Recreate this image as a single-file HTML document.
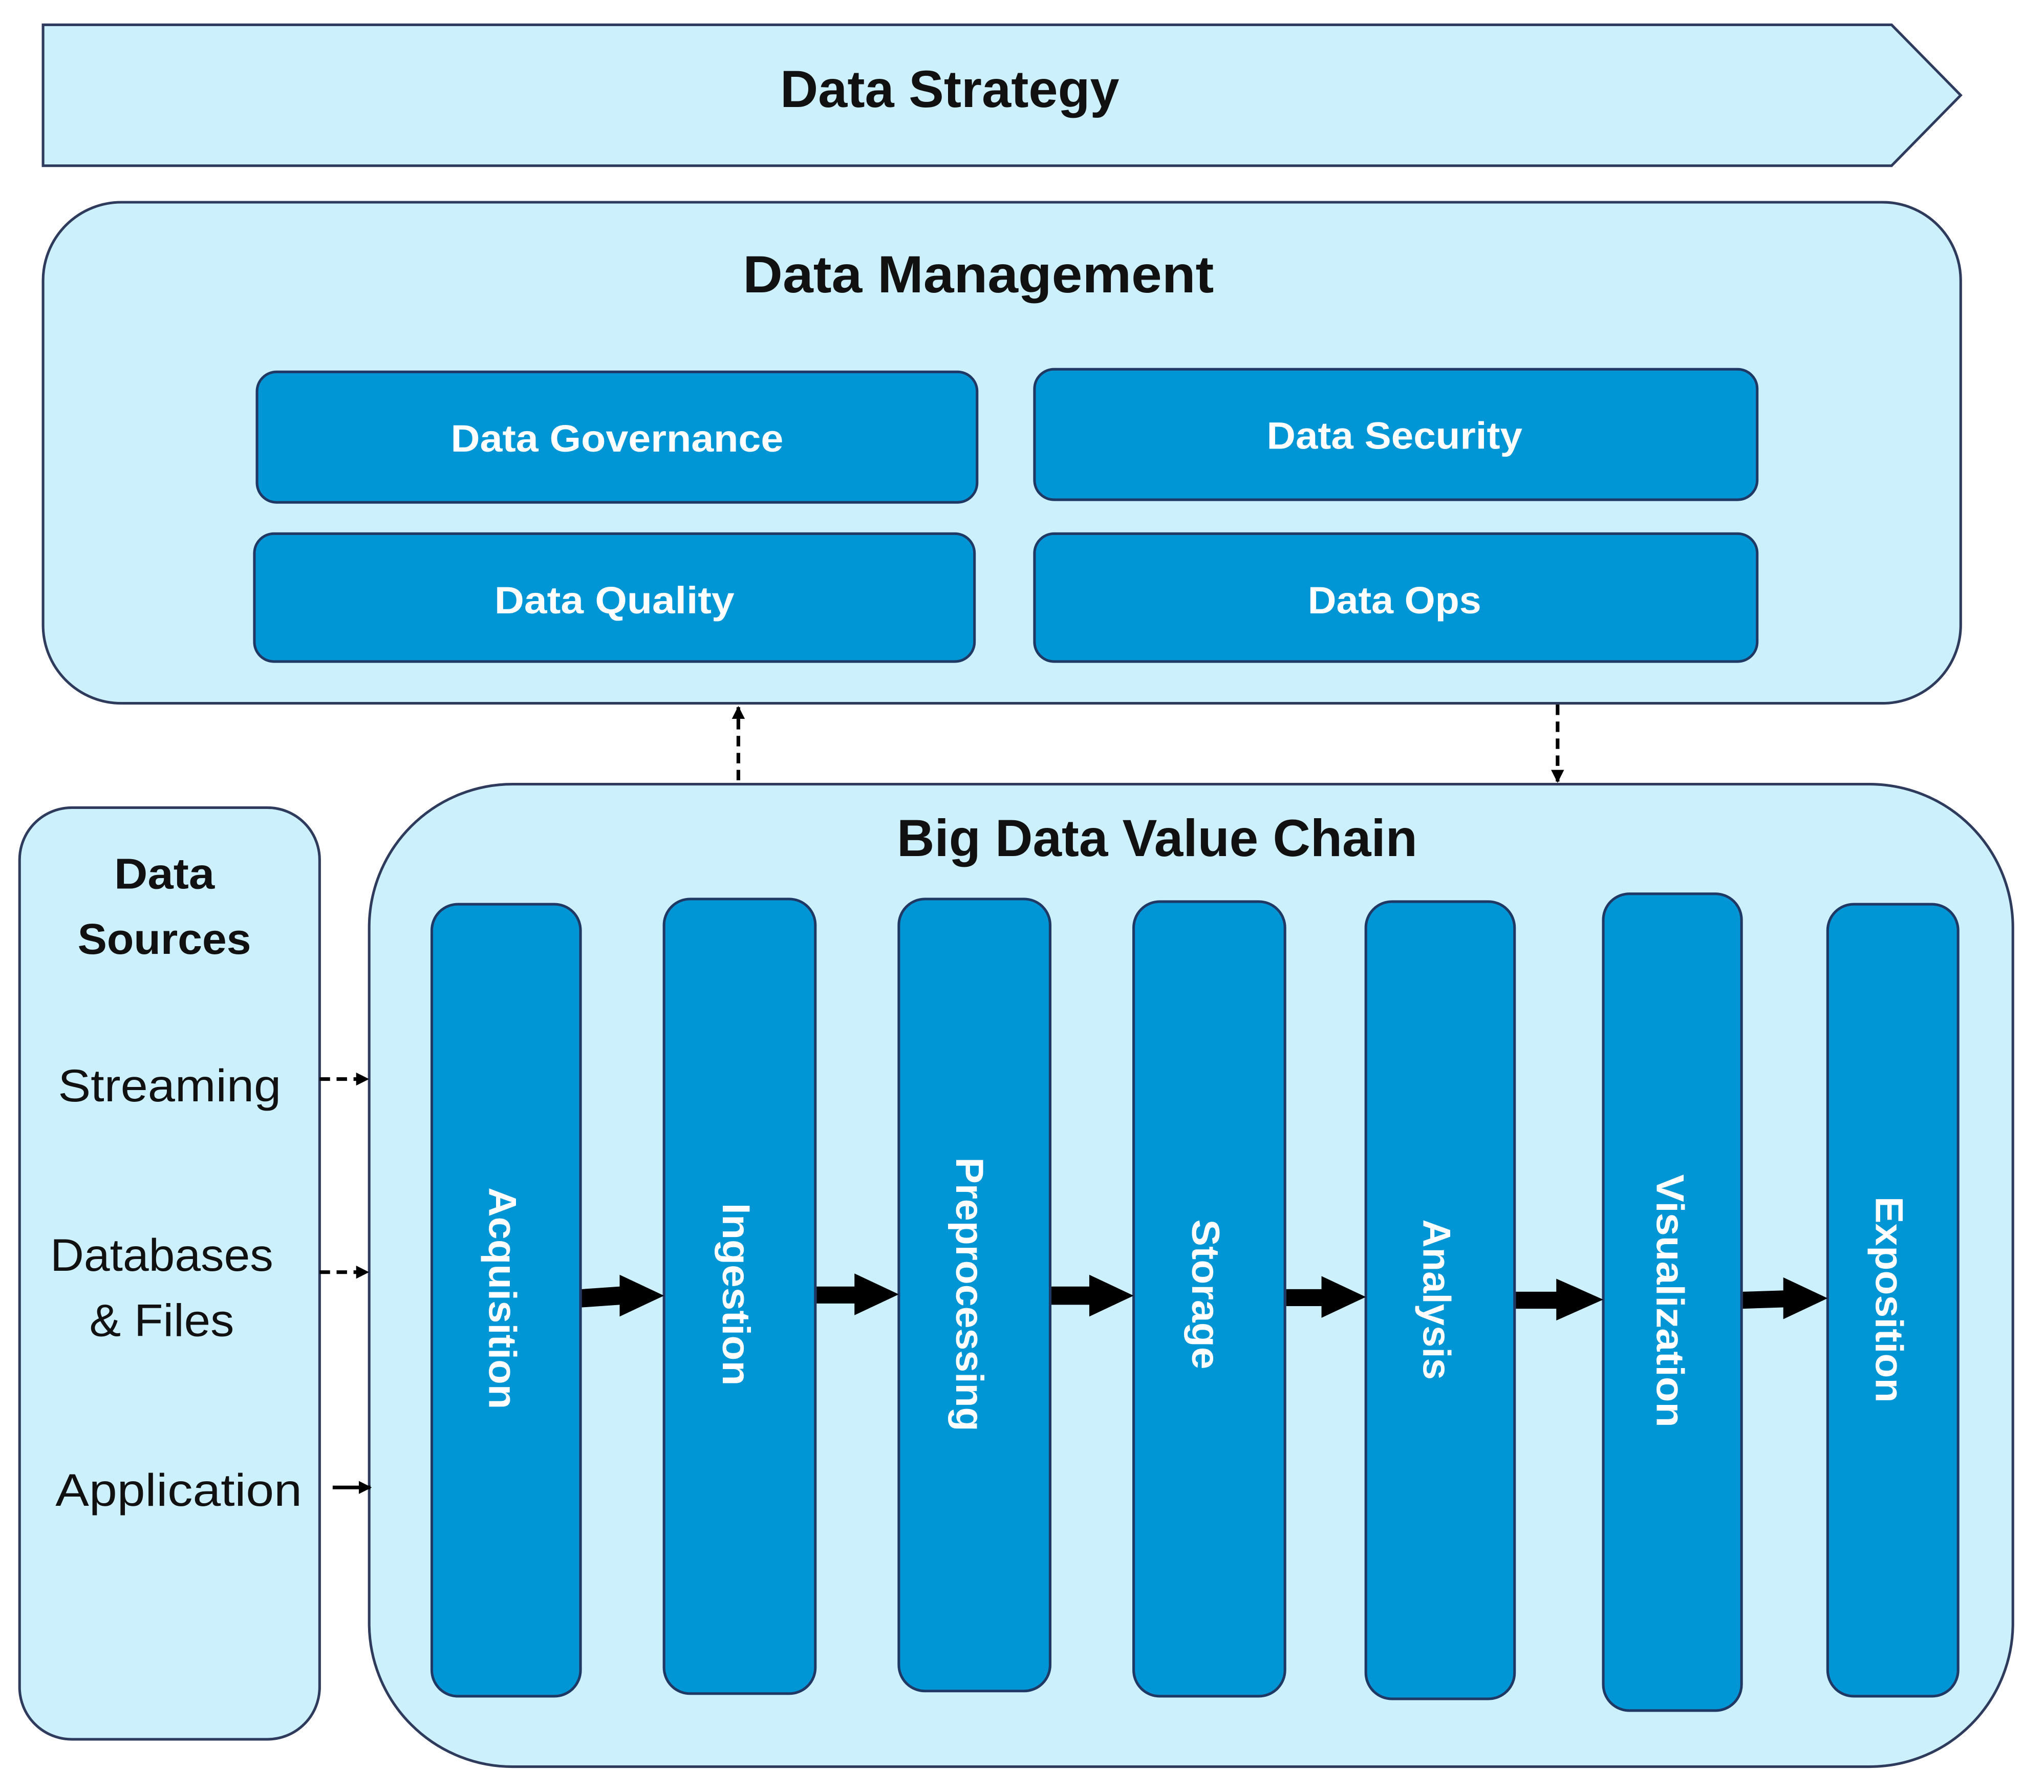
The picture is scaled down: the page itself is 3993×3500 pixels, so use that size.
<!DOCTYPE html>
<html><head><meta charset="utf-8"><style>html,body{margin:0;padding:0;background:#fff}svg{display:block}</style></head>
<body>
<svg xmlns="http://www.w3.org/2000/svg" width="3993" height="3500" viewBox="0 0 1566.8 1373.4" preserveAspectRatio="xMinYMin meet" font-family="Liberation Sans, sans-serif">
<defs>
<marker id="sb" markerWidth="10" markerHeight="10" refX="9" refY="5" orient="auto" markerUnits="userSpaceOnUse"><path d="M0,0 L10,5 L0,10 z" fill="#000"/></marker>
</defs>
<rect width="1566.8" height="1373.4" fill="#fff"/>
<g stroke="#2f3b5c" stroke-width="2" fill="#cdf0fd">
<polygon points="33,19 1450,19 1503,73 1450,127 33,127"/>
<rect x="33" y="155" width="1470" height="384" rx="60"/>
<rect x="15" y="619" width="230" height="714" rx="40"/>
<rect x="283" y="601" width="1260" height="753" rx="110"/>
</g>
<g stroke="#1f3864" stroke-width="2" fill="#0096d6">
<rect x="197" y="285" width="552" height="100" rx="15"/>
<rect x="793" y="283" width="554" height="100" rx="15"/>
<rect x="195" y="409" width="552" height="98" rx="15"/>
<rect x="793" y="409" width="554" height="98" rx="15"/>
<rect x="331" y="693" width="114" height="607" rx="20"/>
<rect x="509" y="689" width="116" height="609" rx="20"/>
<rect x="689" y="689" width="116" height="607" rx="20"/>
<rect x="869" y="691" width="116" height="609" rx="20"/>
<rect x="1047" y="691" width="114" height="611" rx="20"/>
<rect x="1229" y="685" width="106" height="626" rx="20"/>
<rect x="1401" y="693" width="100" height="607" rx="20"/>
</g>
<g font-weight="bold" fill="#111" text-anchor="middle">
<text x="728" y="82" font-size="40" textLength="260" lengthAdjust="spacingAndGlyphs">Data Strategy</text>
<text x="750" y="224" font-size="40" textLength="361" lengthAdjust="spacingAndGlyphs">Data Management</text>
<text x="887" y="656" font-size="40" textLength="399" lengthAdjust="spacingAndGlyphs">Big Data Value Chain</text>
<text x="126" y="681" font-size="33" textLength="77" lengthAdjust="spacingAndGlyphs">Data</text>
<text x="126" y="731" font-size="33" textLength="133" lengthAdjust="spacingAndGlyphs">Sources</text>
</g>
<g fill="#111" text-anchor="middle" font-size="35">
<text x="130" y="844" textLength="171" lengthAdjust="spacingAndGlyphs">Streaming</text>
<text x="124" y="974" textLength="171" lengthAdjust="spacingAndGlyphs">Databases</text>
<text x="124" y="1024" textLength="111" lengthAdjust="spacingAndGlyphs">&amp; Files</text>
<text x="137" y="1154" textLength="189" lengthAdjust="spacingAndGlyphs">Application</text>
</g>
<g font-weight="bold" fill="#fff" text-anchor="middle" font-size="29">
<text x="473" y="346" textLength="255" lengthAdjust="spacingAndGlyphs">Data Governance</text>
<text x="1069" y="344" textLength="196" lengthAdjust="spacingAndGlyphs">Data Security</text>
<text x="471" y="470" textLength="184" lengthAdjust="spacingAndGlyphs">Data Quality</text>
<text x="1069" y="470" textLength="133" lengthAdjust="spacingAndGlyphs">Data Ops</text>
<g font-size="30" dominant-baseline="central">
<text transform="translate(385,995) rotate(90)" textLength="170" lengthAdjust="spacingAndGlyphs">Acquisition</text>
<text transform="translate(564,992) rotate(90)" textLength="140" lengthAdjust="spacingAndGlyphs">Ingestion</text>
<text transform="translate(743,992) rotate(90)" textLength="210" lengthAdjust="spacingAndGlyphs">Preprocessing</text>
<text transform="translate(924,992) rotate(90)" textLength="115" lengthAdjust="spacingAndGlyphs">Storage</text>
<text transform="translate(1101,996) rotate(90)" textLength="123" lengthAdjust="spacingAndGlyphs">Analysis</text>
<text transform="translate(1280,997) rotate(90)" textLength="194" lengthAdjust="spacingAndGlyphs">Visualization</text>
<text transform="translate(1448,996) rotate(90)" textLength="158" lengthAdjust="spacingAndGlyphs">Exposition</text>
</g>
</g>
<g stroke="#000" stroke-width="2.8" stroke-dasharray="8,5" fill="none">
<line x1="566" y1="598" x2="566" y2="542" marker-end="url(#sb)"/>
<line x1="1194" y1="540" x2="1194" y2="599" marker-end="url(#sb)"/>
<line x1="245" y1="827" x2="282" y2="827" marker-end="url(#sb)"/>
<line x1="245" y1="975" x2="282" y2="975" marker-end="url(#sb)"/>
</g>
<line x1="255" y1="1140" x2="284" y2="1140" stroke="#000" stroke-width="2.8" marker-end="url(#sb)"/>
<g fill="#000">
<polygon points="446,988 475,986 475,977 509,993 475,1009 475,1000 446,1002"/>
<polygon points="626,986 655,986 655,976 689,992 655,1008 655,999 626,999"/>
<polygon points="806,986 835,986 835,977 869,993 835,1009 835,1000 806,1000"/>
<polygon points="986,988 1013,988 1013,978 1047,994 1013,1010 1013,1001 986,1001"/>
<polygon points="1162,990 1193,990 1193,980 1229,996 1193,1012 1193,1003 1162,1003"/>
<polygon points="1336,990 1367,989 1367,979 1401,995 1367,1011 1367,1002 1336,1003"/>
</g>
</svg>
</body></html>
